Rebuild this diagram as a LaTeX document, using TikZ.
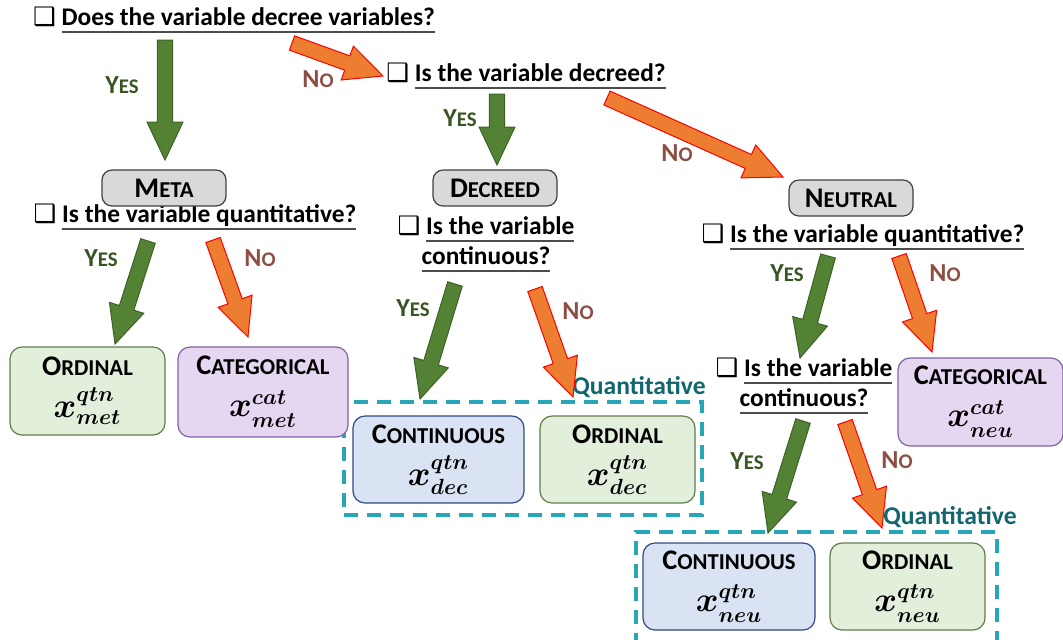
\documentclass[tikz,border=0pt]{standalone}
\usepackage{fontspec}
\setmainfont{Carlito}
\newfontfamily\symfont{DejaVu Sans}
\usepackage{amsmath}
\usetikzlibrary{positioning}
\usetikzlibrary{calc}
\usepackage{xcolor}

\definecolor{yesfill}{RGB}{84,130,53}
\definecolor{yesline}{RGB}{62,98,38}
\definecolor{yestext}{RGB}{55,86,35}
\definecolor{nofill}{RGB}{237,125,49}
\definecolor{notext}{RGB}{142,78,68}
\definecolor{ordfill}{RGB}{226,239,218}
\definecolor{ordline}{RGB}{96,124,76}
\definecolor{catfill}{RGB}{229,215,241}
\definecolor{catline}{RGB}{128,98,160}
\definecolor{confill}{RGB}{218,227,243}
\definecolor{conline}{RGB}{47,72,130}
\definecolor{quantline}{RGB}{38,166,182}
\definecolor{quanttext}{RGB}{17,102,112}

\newcommand{\chk}{{\symfont ❑}}
\newcommand{\uln}[1]{\setbox0\hbox{#1}\rlap{\color{black!70}\rule[-3.5pt]{\wd0}{0.9pt}}\box0}
\newcommand{\fsc}[2]{#1\scalebox{0.8}{#2}}
\newcommand{\varx}[2]{{\fontsize{16}{17}\selectfont\boldmath$x^{#1}_{#2}$}}
% block arrow: style, tail, tip
\newcommand{\fatarrow}[3]{%
  \coordinate (fa-base) at ($(#3)!19pt!(#2)$);
  \filldraw[#1] ($(#2)!3.8pt!90:(#3)$) -- ($(fa-base)!3.8pt!90:(#3)$) -- ($(fa-base)!9pt!90:(#3)$) -- (#3)
    -- ($(fa-base)!9pt!-90:(#3)$) -- ($(fa-base)!3.8pt!-90:(#3)$) -- ($(#2)!3.8pt!-90:(#3)$) -- cycle;
}

\begin{document}
\begin{tikzpicture}[x=0.5pt, y=-0.5pt,
    txt/.style={font=\fontsize{12.7}{16}\selectfont\bfseries},
    big/.style={font=\fontsize{14.2}{16}\selectfont\bfseries},
    ask/.style={txt, align=center, inner sep=0pt},
    head/.style={big, draw=black!75, fill=black!15, rounded corners=5pt, line width=0.6pt, minimum width=62pt, minimum height=18pt, inner sep=0pt},
    leaf/.style={big, rounded corners=6pt, line width=0.6pt, align=center, inner sep=0pt},
    ordbox/.style={leaf, fill=ordfill, draw=ordline},
    catbox/.style={leaf, fill=catfill, draw=catline},
    conbox/.style={leaf, fill=confill, draw=conline},
    yeslabel/.style={font=\fontsize{13}{15}\selectfont\bfseries, text=yestext},
    nolabel/.style={font=\fontsize{13}{15}\selectfont\bfseries, text=notext},
    yesarrow/.style={fill=yesfill, draw=yesline, line width=0.5pt},
    noarrow/.style={fill=nofill, draw=red, line width=0.5pt},
    quantgroup/.style={draw=quantline, line width=1.6pt, dash pattern=on 7pt off 4.5pt},
    quantlabel/.style={font=\fontsize{12.8}{15}\selectfont\bfseries, text=quanttext, inner sep=0pt}]
  \useasboundingbox (0,0) rectangle (1063,639);

  % questions
  \node[ask] (decree) at (234,20) {\chk\ \uln{Does the variable decree variables?}};
  \node[ask] (decreed) at (526,76) {\chk\ \uln{Is the variable decreed?}};
  \node[ask] (metaq) at (195,217) {\chk\ \uln{Is the variable quantitative?}};
  \node[ask] (decq) at (486,244) {\chk\ \uln{Is the variable}\\[-1pt]\uln{continuous?}};
  \node[ask] (neuq) at (863,237) {\chk\ \uln{Is the variable quantitative?}};
  \node[ask] (neucq) at (804,386) {\chk\ \uln{Is the variable}\\[-1pt]\uln{continuous?}};

  % kinds of variable
  \node[head] (meta) at (164,188) {\fsc{M}{ETA}};
  \node[head] (dec) at (495,188) {\fsc{D}{ECREED}};
  \node[head] (neutral) at (851,198) {\fsc{N}{EUTRAL}};

  % groups
  \node[quantgroup, minimum width=179pt, minimum height=56.5pt] (decgroup) at (523,458.5) {};
  \node[quantgroup, minimum width=180.5pt, minimum height=60pt] (neugroup) at (816.5,592) {};
  \node[quantlabel, anchor=south east] (decquant) at (706,398) {Quantitative};
  \node[quantlabel, anchor=south east] (neuquant) at (1017,528) {Quantitative};

  % leaves
  \node[ordbox, minimum width=77.5pt, minimum height=44pt] (metord) at (87.5,391) {\fsc{O}{RDINAL}\\[5pt]\varx{qtn}{met}};
  \node[catbox, minimum width=85pt, minimum height=45pt] (metcat) at (263,392) {\fsc{C}{ATEGORICAL}\\[5pt]\varx{cat}{met}};
  \node[conbox, minimum width=85.5pt, minimum height=43.5pt] (deccon) at (438.5,459.5) {\fsc{C}{ONTINUOUS}\\[5pt]\varx{qtn}{dec}};
  \node[ordbox, minimum width=77.5pt, minimum height=43.5pt] (decord) at (617.5,459.5) {\fsc{O}{RDINAL}\\[5pt]\varx{qtn}{dec}};
  \node[catbox, minimum width=82.5pt, minimum height=44pt] (neucat) at (980.5,402) {\fsc{C}{ATEGORICAL}\\[5pt]\varx{cat}{neu}};
  \node[conbox, minimum width=86pt, minimum height=43.5pt] (neucon) at (729,586.5) {\fsc{C}{ONTINUOUS}\\[5pt]\varx{qtn}{neu}};
  \node[ordbox, minimum width=77.5pt, minimum height=43.5pt] (neuord) at (907.5,586.5) {\fsc{O}{RDINAL}\\[5pt]\varx{qtn}{neu}};

  % labels
  \node[yeslabel] (yes1) at (122,85) {\fsc{Y}{ES}};
  \node[nolabel] (no1) at (318,79) {\fsc{N}{O}};
  \node[yeslabel] (yes2) at (460,118) {\fsc{Y}{ES}};
  \node[nolabel] (no2) at (677,153) {\fsc{N}{O}};
  \node[yeslabel] (yes3) at (101,258) {\fsc{Y}{ES}};
  \node[nolabel] (no3) at (260,258) {\fsc{N}{O}};
  \node[yeslabel] (yes4) at (413,308) {\fsc{Y}{ES}};
  \node[nolabel] (no4) at (578,311) {\fsc{N}{O}};
  \node[yeslabel] (yes5) at (787,273) {\fsc{Y}{ES}};
  \node[nolabel] (no5) at (945,273) {\fsc{N}{O}};
  \node[yeslabel] (yes6) at (747,461) {\fsc{Y}{ES}};
  \node[nolabel] (no6) at (897,460) {\fsc{N}{O}};

  % arrow ends
  \coordinate (a1) at (165,40);  \coordinate (b1) at (165,160);
  \coordinate (a2) at (292,43);  \coordinate (b2) at (383,76);
  \coordinate (a3) at (497,94);  \coordinate (b3) at (497,165);
  \coordinate (a4) at (607,98);  \coordinate (b4) at (783,177);
  \coordinate (a5) at (148,241); \coordinate (b5) at (115,344);
  \coordinate (a6) at (213,240); \coordinate (b6) at (248,337);
  \coordinate (a7) at (455,284); \coordinate (b7) at (420,399);
  \coordinate (a8) at (535,289); \coordinate (b8) at (573,397);
  \coordinate (a9) at (828,256); \coordinate (b9) at (800,358);
  \coordinate (a10) at (899,256); \coordinate (b10) at (932,352);
  \coordinate (a11) at (803,421); \coordinate (b11) at (768,533);
  \coordinate (a12) at (845,422); \coordinate (b12) at (882,528);

  \fatarrow{yesarrow}{a1}{b1}
  \fatarrow{noarrow}{a2}{b2}
  \fatarrow{yesarrow}{a3}{b3}
  \fatarrow{noarrow}{a4}{b4}
  \fatarrow{yesarrow}{a5}{b5}
  \fatarrow{noarrow}{a6}{b6}
  \fatarrow{yesarrow}{a7}{b7}
  \fatarrow{noarrow}{a8}{b8}
  \fatarrow{yesarrow}{a9}{b9}
  \fatarrow{noarrow}{a10}{b10}
  \fatarrow{yesarrow}{a11}{b11}
  \fatarrow{noarrow}{a12}{b12}
\end{tikzpicture}
\end{document}
